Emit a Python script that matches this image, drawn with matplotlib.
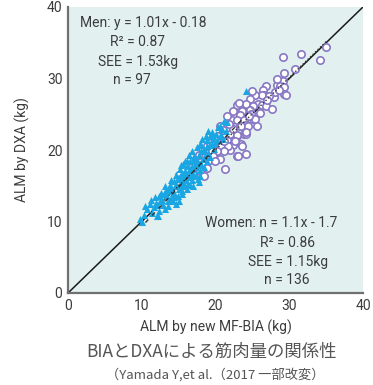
import matplotlib.pyplot as plt

# Men (circles): ALM by new MF-BIA (x) vs ALM by DXA (y), kg
men_x = [35.0, 31.6, 34.2, 29.1, 30.8, 29.3, 29.1, 28.3, 28.7, 29.3,
         29.3, 29.6, 26.8, 26.5, 26.6, 26.3, 25.4, 24.7, 24.2, 25.8,
         26.3, 26.9, 27.6, 25.1, 24.7, 23.6, 22.9, 22.4, 23.3, 22.2,
         22.9, 23.8, 25.1, 24.2, 23.3, 22.4, 23.8, 22.9, 20.6, 21.3,
         22.9, 24.2, 23.5, 22.4, 22.0, 21.5, 20.2, 20.8, 21.7, 21.1,
         20.2, 19.5, 18.8, 19.7, 19.0, 18.3, 17.7, 17.7, 17.9, 15.9,
         15.0, 22.0, 22.9, 24.2, 22.4, 23.5, 24.4, 18.4, 18.9, 27.9,
         28.0, 27.2, 25.0, 24.8, 25.4, 24.2, 23.6, 23.0, 20.4, 21.0,
         21.8, 20.0, 19.2, 18.6, 20.6, 16.8, 19.9, 26.0, 27.0, 28.4,
         23.2, 21.6, 25.6, 24.6, 22.6, 21.1, 28.6]
men_y = [34.4, 33.4, 32.6, 33.0, 31.3, 30.7, 29.6, 29.1, 28.9, 28.8,
         27.9, 27.7, 28.9, 28.4, 27.7, 27.7, 27.7, 27.2, 26.5, 26.5,
         26.3, 26.1, 25.8, 26.1, 25.6, 25.4, 26.3, 25.4, 24.9, 24.2,
         24.2, 24.2, 24.4, 23.5, 23.3, 22.8, 22.3, 21.9, 23.3, 17.4,
         19.1, 19.5, 20.9, 20.7, 20.0, 21.4, 20.9, 20.5, 20.5, 19.8,
         19.8, 19.8, 20.5, 19.1, 18.4, 18.1, 19.3, 17.4, 17.0, 16.5,
         16.5, 22.3, 22.1, 22.3, 23.0, 23.3, 23.3, 16.4, 17.5, 27.4,
         28.1, 27.6, 28.2, 25.1, 24.4, 22.5, 20.6, 19.2, 22.0, 22.8,
         23.6, 21.4, 21.0, 19.0, 18.8, 17.6, 18.5, 25.2, 27.0, 30.0,
         26.6, 24.7, 23.4, 24.7, 21.2, 21.2, 28.4]

# Women (triangles)
women_x = [9.8, 10.0, 10.5, 10.7, 11.1, 11.9, 12.0, 12.0, 12.2, 13.2,
           12.9, 13.6, 14.7, 15.0, 14.1, 12.7, 13.4, 13.6, 14.5, 14.1,
           15.0, 15.4, 15.9, 14.7, 15.4, 16.3, 17.0, 16.8, 15.9, 15.4,
           16.1, 16.8, 17.0, 17.4, 17.9, 16.5, 17.2, 17.9, 18.1, 17.4,
           18.6, 18.3, 18.8, 19.5, 20.2, 20.6, 20.8, 24.2, 21.1, 20.4,
           19.7, 19.3, 18.1, 16.8, 15.9, 15.2, 17.9, 18.8, 19.7, 20.6,
           16.1, 15.6, 17.6, 17.7, 13.8, 12.4, 11.4, 10.3, 11.6, 12.5,
           13.0, 13.9, 14.3, 14.9, 15.2, 14.4, 15.6, 16.0, 16.5, 15.8,
           16.4, 17.0, 16.3, 15.1, 14.0, 13.3, 14.6, 15.8, 16.7, 17.3,
           16.9, 17.6, 18.3, 17.8, 17.1, 18.4, 19.0, 19.2, 19.8, 20.1,
           19.5, 20.9, 21.4, 21.6, 18.7, 18.0, 16.4, 15.2, 14.6, 13.9,
           13.1, 12.6, 11.8, 12.3, 11.3, 13.5, 14.2, 15.5, 16.1, 16.6,
           18.5, 17.9, 18.9, 19.3, 15.7, 16.9, 14.9, 13.7, 18.2, 17.5,
           19.9, 21.0, 15.3, 16.6, 19.0, 14.4]
women_y = [10.4, 10.0, 12.1, 11.8, 12.5, 12.6, 12.3, 10.8, 10.7, 11.8,
           12.3, 12.8, 12.5, 12.8, 13.0, 13.0, 13.5, 14.2, 13.7, 14.6,
           14.6, 14.2, 14.9, 15.3, 15.6, 15.3, 14.9, 15.8, 16.3, 16.7,
           17.7, 17.7, 16.7, 16.5, 16.3, 18.4, 17.9, 17.2, 18.1, 18.8,
           19.1, 19.8, 20.5, 20.7, 21.4, 23.3, 22.1, 28.2, 24.0, 23.2,
           21.9, 21.9, 20.7, 19.8, 18.4, 16.3, 20.9, 21.4, 21.6, 21.9,
           18.4, 18.1, 15.9, 15.5, 15.1, 11.5, 11.2, 10.9, 12.0, 12.8,
           13.8, 13.3, 14.0, 13.6, 15.0, 15.6, 15.4, 15.8, 16.2, 17.0,
           17.1, 17.3, 16.6, 15.9, 14.2, 14.4, 14.9, 16.6, 16.9, 17.6,
           18.6, 18.3, 18.7, 19.3, 19.1, 20.2, 19.6, 20.9, 20.1, 22.3,
           22.5, 23.0, 22.7, 23.9, 22.0, 19.8, 19.3, 17.4, 16.5, 15.8,
           14.9, 14.0, 13.4, 13.5, 13.0, 12.2, 12.9, 13.8, 14.5, 15.1,
           17.6, 18.0, 18.5, 19.0, 15.2, 16.3, 16.1, 14.7, 21.5, 20.4,
           21.0, 21.6, 17.9, 17.4, 22.6, 13.4]

# regression lines (slope, intercept) and the range they are drawn over
men_fit = (1.01, -0.18)
women_fit = (1.1, -1.7)
men_fit_range = [14, 35]
women_fit_range = [10.5, 25]

ticks = [0, 10, 20, 30, 40]

txt_color = "#3c3c3c"
grey = "#707070"

plt.rcParams['font.family'] = ['Roboto', 'DejaVu Sans']

fig = plt.figure(figsize=(3.73, 3.85), dpi=100)
ax = fig.add_axes([68 / 373, 1 - 293 / 385, 295 / 373, 286 / 385])
ax.set_facecolor("#e2f1f0")

ax.plot([0, 40], [0, 40], color="#1a1a1a", lw=1.1, zorder=2)

ax.scatter(men_x, men_y, s=28, marker="o", facecolor="white",
           edgecolor="#8877c4", linewidths=1.2, zorder=3)
ax.scatter(women_x, women_y, s=26, marker="^", color="#1aa6e3",
           linewidths=0, zorder=4)

# fitted lines drawn on top
mx = men_fit_range
ax.plot(mx, [men_fit[0] * v + men_fit[1] for v in mx], color="#333333",
        lw=1.0, ls=(0, (1, 1.5)), zorder=5)
wx = women_fit_range
ax.plot(wx, [women_fit[0] * v + women_fit[1] for v in wx], color="#333333",
        lw=1.0, ls=(0, (3, 4)), zorder=5)

ax.set_xlim(0, 40)
ax.set_ylim(0, 40)
ax.set_xticks(ticks)
ax.set_yticks(ticks)
ax.tick_params(length=0, labelsize=10, labelcolor=txt_color, pad=4)

for side in ["top", "right"]:
    ax.spines[side].set_visible(False)
for side in ["left", "bottom"]:
    ax.spines[side].set_color(grey)
    ax.spines[side].set_linewidth(1.6)

ax.set_xlabel("ALM by new MF-BIA (kg)", fontsize=10, color=txt_color, labelpad=5)
ax.set_ylabel("ALM by DXA (kg)", fontsize=10, color=txt_color, labelpad=12)

# annotation text, one line at a time
fs = 10
ax.text(10.2, 37.8, "Men: y = 1.01x - 0.18", fontsize=fs, color=txt_color, ha="center", va="center")
ax.text(9.4, 35.15, "R² = 0.87", fontsize=fs, color=txt_color, ha="center", va="center")
ax.text(9.5, 32.35, "SEE = 1.53kg", fontsize=fs, color=txt_color, ha="center", va="center")
ax.text(8.7, 29.8, "n = 97", fontsize=fs, color=txt_color, ha="center", va="center")

ax.text(27.6, 9.75, "Women: n = 1.1x - 1.7", fontsize=fs, color=txt_color, ha="center", va="center")
ax.text(29.8, 6.95, "R² = 0.86", fontsize=fs, color=txt_color, ha="center", va="center")
ax.text(29.8, 4.34, "SEE = 1.15kg", fontsize=fs, color=txt_color, ha="center", va="center")
ax.text(29.7, 1.8, "n = 136", fontsize=fs, color=txt_color, ha="center", va="center")

cjk = ['Noto Sans CJK JP', 'DejaVu Sans']
fig.text(211 / 373, 1 - 352 / 385, "BIAとDXAによる筋肉量の関係性", fontsize=12.5,
         color="#555555", ha="center", va="center", family=cjk)
fig.text(215 / 373, 1 - 375 / 385, "（Yamada Y,et al.（2017 一部改変）", fontsize=9.5,
         color="#555555", ha="center", va="center", family=cjk)

fig.savefig("out.png", dpi=100)
